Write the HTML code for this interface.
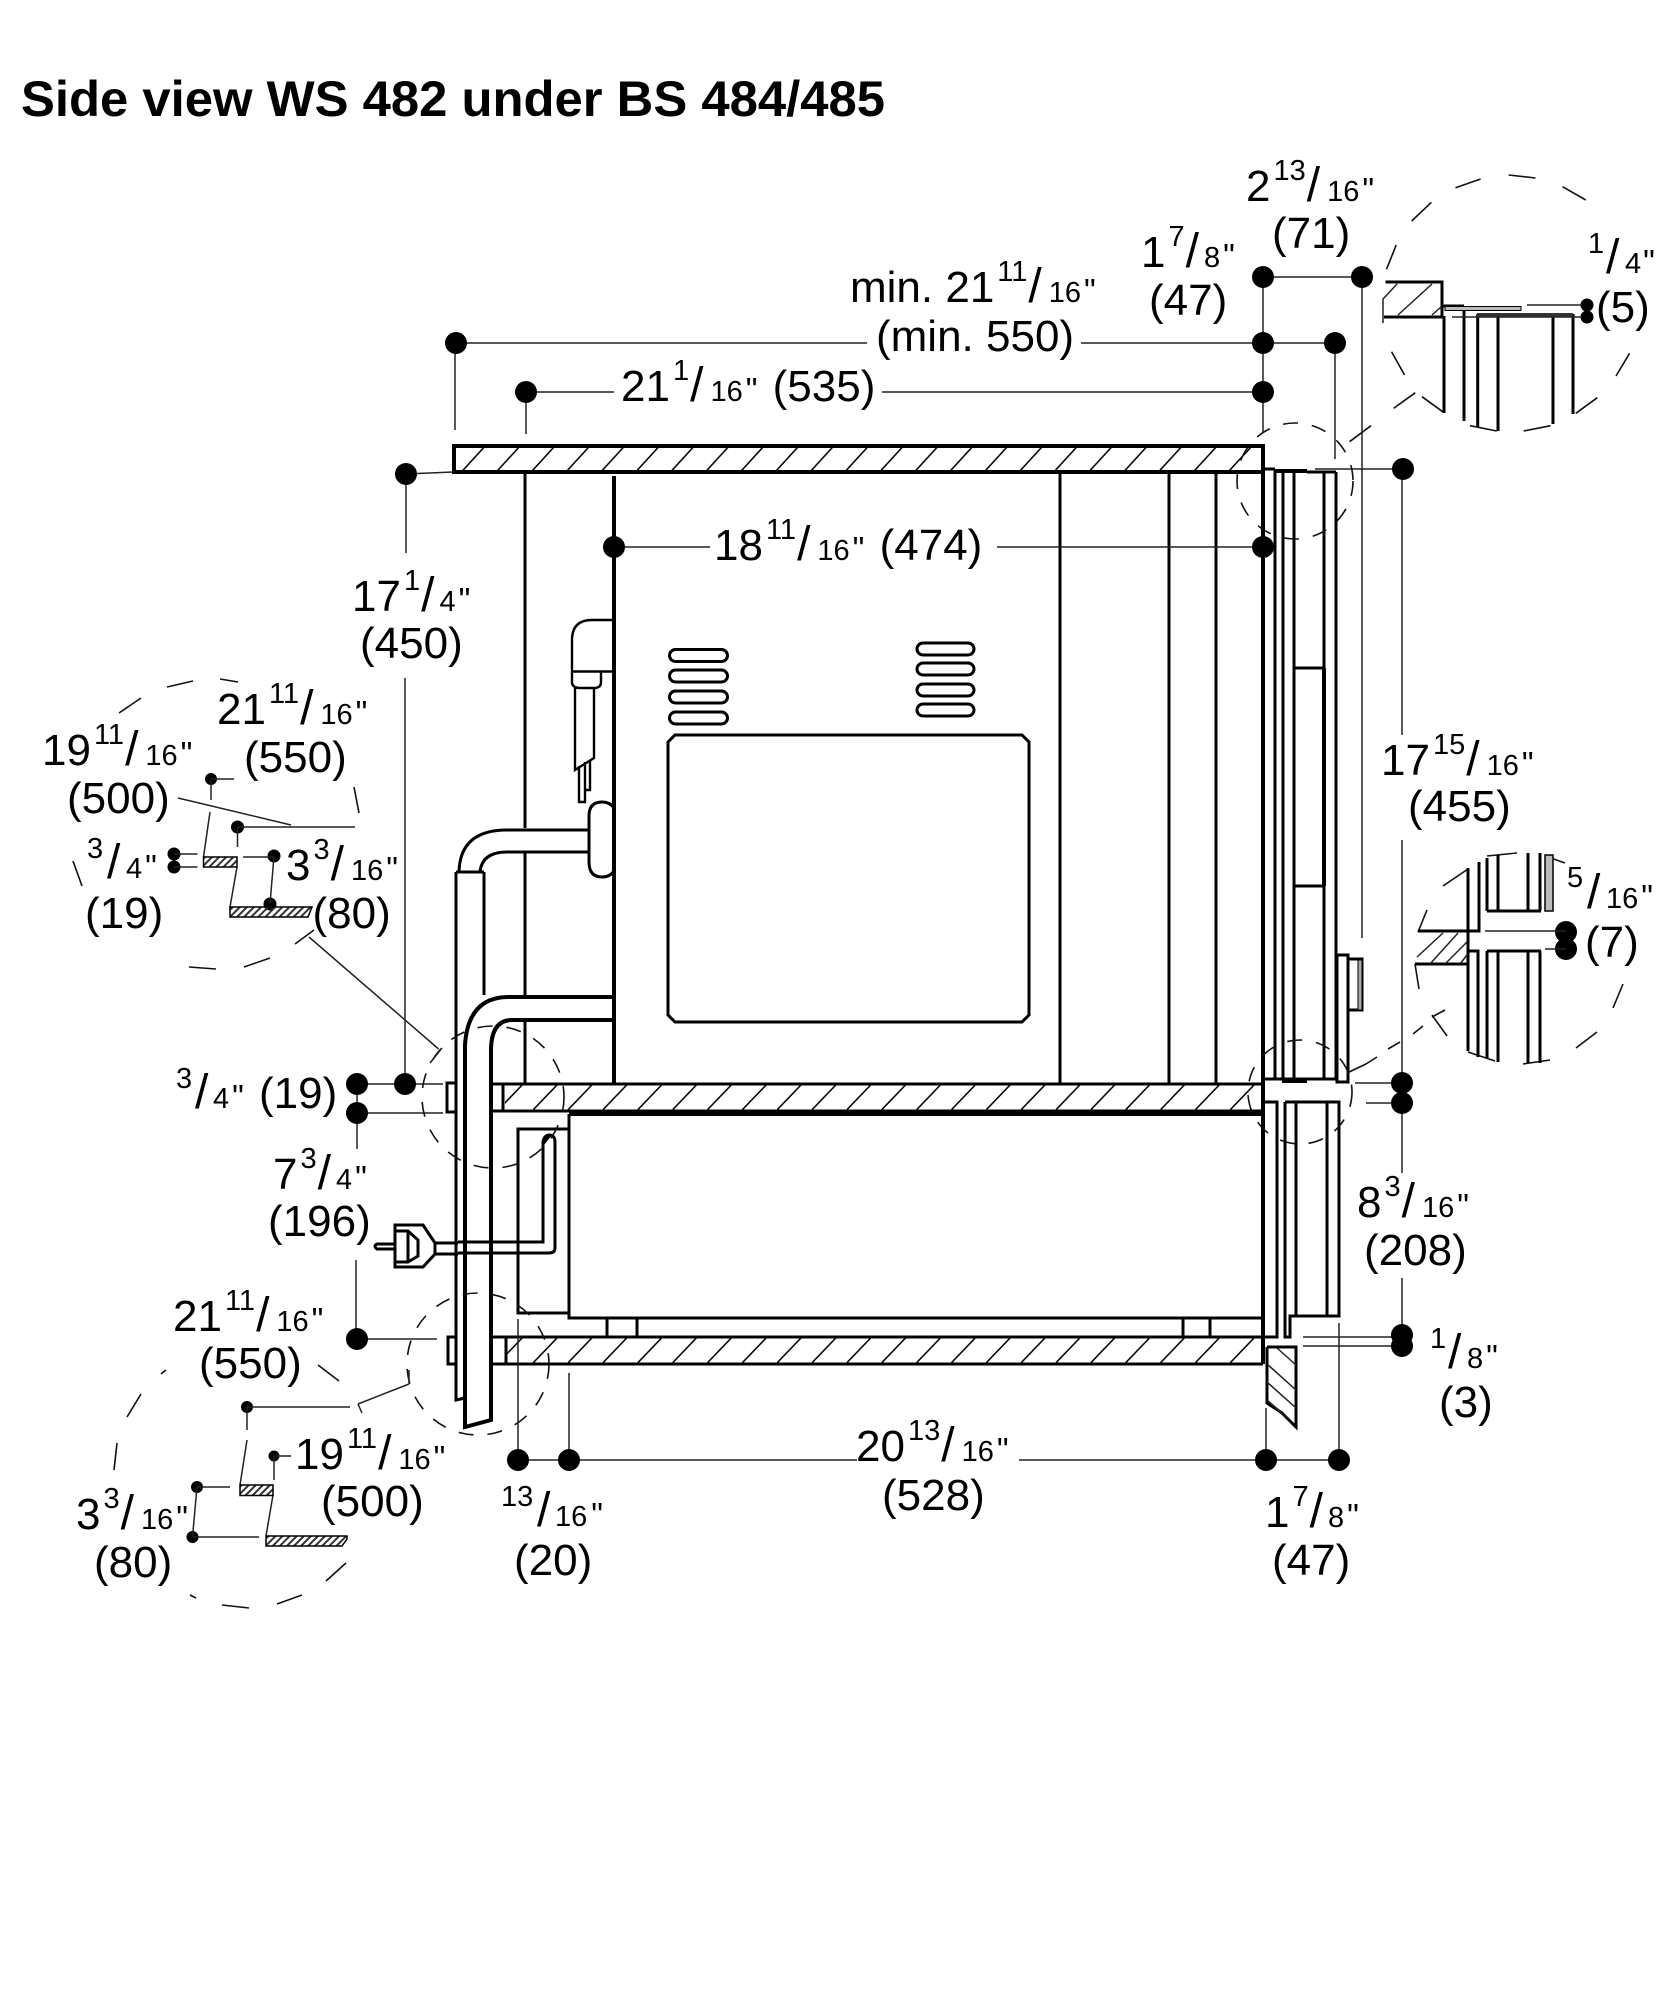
<!DOCTYPE html>
<html><head><meta charset="utf-8"><title>Side view WS 482 under BS 484/485</title>
<style>
html,body{margin:0;padding:0;background:#fff}
svg{display:block}
text{font-family:"Liberation Sans",sans-serif;font-size:44px;fill:#000}
text.h{font-size:50px;font-weight:bold}
.s{font-size:29px}
.p{font-size:48px}
.i{font-size:33px}
.m{fill:none;stroke:#000;stroke-width:3}
.k{fill:none;stroke:#000;stroke-width:4}
.v{fill:none;stroke:#000;stroke-width:2.4}
.t{fill:none;stroke:#222;stroke-width:1.5}
.d{fill:none;stroke:#111;stroke-width:1.6}
.c{fill:none;stroke:#111;stroke-width:1.6;stroke-dasharray:15 14}
</style></head><body>
<svg width="1663" height="2000" viewBox="0 0 1663 2000" xmlns="http://www.w3.org/2000/svg">
<defs>
<pattern id="h1" patternUnits="userSpaceOnUse" x="532" y="445" width="34.85" height="27"><path d="M0 26L22 2" stroke="#000" stroke-width="1.6" fill="none"/></pattern>
<pattern id="h2" patternUnits="userSpaceOnUse" x="533" y="1084" width="34.85" height="27"><path d="M0 26L24 1" stroke="#000" stroke-width="1.6" fill="none"/></pattern>
<pattern id="h3" patternUnits="userSpaceOnUse" x="533" y="1337" width="34.85" height="27"><path d="M0 26L24 1" stroke="#000" stroke-width="1.6" fill="none"/></pattern>
<pattern id="h4" patternUnits="userSpaceOnUse" width="5" height="5" patternTransform="rotate(45)"><rect width="2" height="5" fill="#333"/></pattern>
</defs>
<rect width="1663" height="2000" fill="#fff"/>
<text class="h" x="21" y="116" textLength="864" lengthAdjust="spacingAndGlyphs">Side view WS 482 under BS 484/485</text>

<!-- shelves -->
<rect x="454" y="446" width="809" height="26" fill="url(#h1)"/>
<path class="k" d="M462 446H1263V472H454V446H462"/>
<rect x="505" y="1085" width="758" height="26" fill="url(#h2)"/>
<path class="m" d="M492 1084H1263M492 1111H1263M503 1084V1111"/>
<rect x="507" y="1338" width="756" height="25" fill="url(#h3)"/>
<path class="m" d="M492 1337H1263M492 1364H1263M506 1337V1364"/>

<!-- cabinet verticals -->
<path class="m" d="M525 473V828M525 852V995M525 1021V1083M1060 473V1084M1169 473V1084M1216 473V1084"/>
<path class="k" d="M614 476V1084"/>
<path class="k" d="M1263 445V1364"/>
<path class="m" d="M1275 470V1079M1283 472V1079M1294 472V1079M1324 472V1079M1336 472V1079M1263 469H1275M1307 472H1336M1263 1079H1336M1294 668H1324M1294 886H1324"/>
<path class="k" d="M1275 471H1307M1282 1081H1307M1324 668V886"/>
<!-- knob -->
<path class="m" d="M1337 955H1348V1082H1337ZM1348 959H1362V1010H1348"/>
<rect x="1358" y="960" width="4" height="50" fill="#aaa" stroke="#000"/>
<!-- lower right column -->
<path class="m" d="M1263 1102H1277V1337H1263M1285 1102H1339V1316H1290V1337H1285V1102M1296 1102V1316M1327 1102V1316"/>
<!-- trim -->
<path class="m" d="M1267 1347H1296V1427L1287 1418L1282 1413L1267 1403V1347"/>
<path class="t" d="M1277 1348L1296 1365M1267 1364L1296 1390M1267 1382L1296 1408M1267 1400L1290 1420"/>
<!-- drawer -->
<path class="m" d="M569 1114V1318H1263M607 1318V1336M637 1318V1336M1183 1318V1336M1210 1318V1336"/>
<path class="k" d="M569 1114H1263"/>
<path class="m" d="M569 1129H518V1313H569"/>
<path class="m" d="M458 1242H543V1142Q544 1135 550 1135Q555 1136 555 1142V1248Q555 1253 549 1253H458M543 1144L550 1135"/>
<!-- plug -->
<path class="m" d="M435 1243H458M435 1254H458M395 1225H423L435 1243V1254L423 1267H395ZM395 1231H408L418 1240V1256L408 1262H395M408 1231V1262M395 1244H377Q373 1246 377 1249H395"/>
<!-- oven window and vents -->
<path class="m" d="M675 735H1022L1029 742V1015L1022 1022H675L668 1015V742Z"/>
<g class="m">
<rect x="669.5" y="649.5" width="58" height="12" rx="6"/><rect x="669.5" y="670" width="58" height="12" rx="6"/><rect x="669.5" y="691" width="58" height="12" rx="6"/><rect x="669.5" y="712" width="58" height="12" rx="6"/>
<rect x="917" y="643" width="57" height="12" rx="6"/><rect x="917" y="663" width="57" height="12" rx="6"/><rect x="917" y="684" width="57" height="12" rx="6"/><rect x="917" y="704" width="57" height="12" rx="6"/>
</g>
<!-- elbow -->
<path class="v" d="M614 620H592Q572 620 572 640V683Q573 688 580 688H594Q601 688 601 682V672M572 671.5H614M575 688V770L594 758V688M579 766V802H585V762M585 790H590V760"/>
<!-- capsule and tube -->
<path class="m" d="M614 808Q610 802 602 802Q589 802 589 816V862Q589 877 602 877Q610 877 614 871M589 830H507Q460 830 459 872M589 852H507Q482 852 480 872M456 872H484M456 872V1400L465 1398M484 872V995"/>
<path class="k" d="M614 997H507Q468 998 465 1045V1427L491 1420V1048Q492 1020 512 1020H614"/>
<path class="m" d="M456 1083H447V1112H456M456 1337H448V1364H456"/>

<!-- dim leaders -->
<path class="t" d="M455 343H867M1081 343H1335M455 343V430M526 392H614M882 392H1263M526 392V434M406 474L453 472M406 474V553M405 678V1083M614 547H710M997 547H1263M1263 277V432M1263 277H1362M1362 277V938M1335 343V459M1315 469H1403M1402 469V735M1402 840V1073M1402 1103V1173M1402 1278V1335M1355 1083H1402M1366 1103H1402M357 1084H443M357 1113H443M357 1084V1149M356 1260V1339M357 1339H437M518 1319V1460M569 1373V1460M518 1460H857M1019 1460H1339M1266 1408V1460M1339 1323V1460M1303 1337H1401M1303 1346H1401"/>

<!-- dots -->
<g fill="#000">
<circle cx="1263" cy="277" r="11"/><circle cx="1362" cy="277" r="11"/><circle cx="1263" cy="343" r="11"/><circle cx="1335" cy="343" r="11"/><circle cx="1263" cy="392" r="11"/><circle cx="1403" cy="469" r="11"/>
<circle cx="456" cy="343" r="11"/><circle cx="526" cy="392" r="11"/><circle cx="406" cy="474" r="11"/><circle cx="614" cy="547" r="11"/><circle cx="1263" cy="547" r="11"/>
<circle cx="357" cy="1084" r="11"/><circle cx="405" cy="1084" r="11"/><circle cx="357" cy="1113" r="11"/><circle cx="357" cy="1339" r="11"/>
<circle cx="518" cy="1460" r="11"/><circle cx="569" cy="1460" r="11"/><circle cx="1266" cy="1460" r="11"/><circle cx="1339" cy="1460" r="11"/>
<circle cx="1402" cy="1083" r="11"/><circle cx="1402" cy="1103" r="11"/><circle cx="1402" cy="1335" r="11"/><circle cx="1402" cy="1346" r="11"/>
<circle cx="1587" cy="305" r="6.5"/><circle cx="1587" cy="317" r="6.5"/><circle cx="1566" cy="932" r="11"/><circle cx="1566" cy="949" r="11"/>
<circle cx="211" cy="779" r="6"/><circle cx="237.5" cy="827" r="6.5"/><circle cx="274" cy="856" r="6.5"/><circle cx="270" cy="904" r="6.5"/><circle cx="174" cy="854" r="6.5"/><circle cx="174" cy="867" r="6.5"/>
<circle cx="247" cy="1407" r="6"/><circle cx="274" cy="1456" r="5.5"/><circle cx="197" cy="1487" r="6"/><circle cx="192.5" cy="1537" r="6"/>
</g>

<!-- small dashed circles -->
<circle class="c" cx="1295" cy="481" r="58"/>
<circle class="c" cx="1300" cy="1092" r="52"/>
<circle class="c" cx="493" cy="1097" r="71"/>
<circle class="c" cx="478" cy="1364" r="71"/>

<!-- detail top right -->
<path class="d" d="M1455.5 187.7L1480.6 179M1508.6 175L1535.5 178M1562.5 186.7L1585.8 200M1411.7 221L1431.4 202.3M1386.5 269.3L1396.2 245M1391.6 351.7L1404.5 375M1422 396.7L1444 412.7M1470 425.7L1496.8 431M1523.7 431L1550.6 425.7M1575.8 413.3L1597.3 397.7M1616 376L1629.6 353.3M1393.7 408.3L1415.3 392.7M1349.6 441.7L1371 425.7"/>
<path class="m" d="M1385.5 282H1442V317H1384M1442 306H1464M1444 316V413M1464 306V421M1477.7 314V427M1498 314V431M1553 314V424M1573 314V414"/>
<path class="t" d="M1397 284L1383 299V323M1398 315L1432 284M1432 315L1441 307M1527 305H1582M1452 317H1582"/>
<rect x="1445" y="306.5" width="76" height="4" fill="#bbb" stroke="#000" stroke-width="1"/>
<rect x="1477" y="313" width="96" height="3.5" fill="#333"/>

<!-- detail right -->
<path class="d" d="M1443 886L1468 869M1487 856L1517 853M1545 856L1565 863M1613 1008L1623 984M1576 1048L1597 1032M1523 1064L1550 1060M1468 1052L1495 1061M1432 1015L1447 1036M1415 964L1419 989M1418 932L1427 910M1347 1073L1366 1064M1366 1064L1377 1057M1388 1049L1400 1042M1413 1034L1423 1026M1432 1017L1445 1010"/>
<path class="m" d="M1468 868V931M1479 862V931H1418M1415 964H1468M1468 931V1051M1468 951H1478V1057M1487 951V1058M1498 951V1062M1487 951H1541M1528 951V1063M1540 951V1063M1487 858V911M1498 855V911M1487 911H1541M1528 853V911M1540 853V911"/>
<rect x="1545" y="855" width="8" height="56" fill="#bbb" stroke="#000" stroke-width="1.5"/>
<path class="t" d="M1485 931H1566M1545 949H1566M1417 957L1443 933M1430 964L1458 933M1445 964L1467 942M1460 964L1467 955"/>

<!-- detail left upper -->
<path class="d" d="M119 713L141 698M167 687L193 681M220 679L238 682M354 787L359 813M73 861L82 886M189 967L216 969M244 967L270 958M295 944L314 930"/>
<path class="t" d="M211 780V800M210 812L203.5 857M178 798L291 825M237.5 827H355M237.5 827V847M237 867L230 907M174 854H197.5M174 867H197.5M243 857H274M274 856L270 904M211 779H234M309 937L438.6 1049M430 1063L442 1048"/>
<rect x="203.5" y="857" width="33.5" height="10" fill="url(#h4)" stroke="#000" stroke-width="1.5"/>
<path d="M230 907H312L308 917H230Z" fill="url(#h4)" stroke="#000" stroke-width="1.5"/>

<!-- detail left lower -->
<path class="d" d="M114 1470L117 1443M127 1417L141 1394M161 1374L166 1370M318 1365L339 1381M190 1595L196 1598M222 1605L249 1608M277 1604L302 1595M326 1581L346 1563"/>
<path class="t" d="M247 1407H350M247 1407V1430M247 1440L240 1485M274 1456H291M274 1456V1480M273 1495L266 1536M197 1487H230M197 1487L192.5 1537M192.5 1537H259M409 1384L358 1404M358 1404L362 1413M409 1370L409 1384"/>
<rect x="240" y="1485" width="33" height="10.5" fill="url(#h4)" stroke="#000" stroke-width="1.5"/>
<path d="M266 1536H347V1539L342 1546H266Z" fill="url(#h4)" stroke="#000" stroke-width="1.5"/>

<!-- labels -->
<text x="1246" y="201">2<tspan class="s" dx="3" dy="-21">13</tspan><tspan class="p" dx="1" dy="21">/</tspan><tspan class="s" dx="7">16</tspan><tspan class="i" dx="3">"</tspan></text>
<text x="1272" y="248">(71)</text>
<text x="1141" y="267">1<tspan class="s" dx="3" dy="-21">7</tspan><tspan class="p" dx="1" dy="21">/</tspan><tspan class="s" dx="5">8</tspan><tspan class="i" dx="3">"</tspan></text>
<text x="1149" y="315">(47)</text>
<text x="1588" y="253" class="s">1</text><text x="1606" y="273" class="p">/</text><text x="1625" y="273" class="s">4<tspan class="i" dx="2">"</tspan></text>
<text x="1596" y="322">(5)</text>
<text x="850" y="302">min. 21<tspan class="s" dx="3" dy="-21">11</tspan><tspan class="p" dx="1" dy="21">/</tspan><tspan class="s" dx="7">16</tspan><tspan class="i" dx="3">"</tspan></text>
<text x="876" y="351">(min. 550)</text>
<text x="621" y="401">21<tspan class="s" dx="3" dy="-21">1</tspan><tspan class="p" dx="1" dy="21">/</tspan><tspan class="s" dx="7">16</tspan><tspan class="i" dx="3">"</tspan><tspan dx="3"> (535)</tspan></text>
<text x="714" y="560">18<tspan class="s" dx="3" dy="-21">11</tspan><tspan class="p" dx="1" dy="21">/</tspan><tspan class="s" dx="7">16</tspan><tspan class="i" dx="3">"</tspan><tspan dx="3"> (474)</tspan></text>
<text x="352" y="611">17<tspan class="s" dx="3" dy="-21">1</tspan><tspan class="p" dx="1" dy="21">/</tspan><tspan class="s" dx="5">4</tspan><tspan class="i" dx="3">"</tspan></text>
<text x="360" y="658">(450)</text>
<text x="1381" y="775">17<tspan class="s" dx="3" dy="-21">15</tspan><tspan class="p" dx="1" dy="21">/</tspan><tspan class="s" dx="7">16</tspan><tspan class="i" dx="3">"</tspan></text>
<text x="1408" y="821">(455)</text>
<text x="1567" y="887" class="s">5</text><text x="1587" y="908" class="p">/</text><text x="1606" y="908" class="s">16<tspan class="i" dx="3">"</tspan></text>
<text x="1585" y="957">(7)</text>
<text x="1357" y="1217">8<tspan class="s" dx="3" dy="-21">3</tspan><tspan class="p" dx="1" dy="21">/</tspan><tspan class="s" dx="7">16</tspan><tspan class="i" dx="3">"</tspan></text>
<text x="1364" y="1265">(208)</text>
<text x="1430" y="1348" class="s">1</text><text x="1448" y="1368" class="p">/</text><text x="1467" y="1368" class="s">8<tspan class="i" dx="3">"</tspan></text>
<text x="1439" y="1417">(3)</text>
<text x="1265" y="1527">1<tspan class="s" dx="3" dy="-21">7</tspan><tspan class="p" dx="1" dy="21">/</tspan><tspan class="s" dx="5">8</tspan><tspan class="i" dx="3">"</tspan></text>
<text x="1272" y="1575">(47)</text>
<text x="856" y="1461">20<tspan class="s" dx="3" dy="-21">13</tspan><tspan class="p" dx="1" dy="21">/</tspan><tspan class="s" dx="7">16</tspan><tspan class="i" dx="3">"</tspan></text>
<text x="882" y="1510">(528)</text>
<text x="501" y="1506" class="s">13</text><text x="537" y="1526" class="p">/</text><text x="555" y="1526" class="s">16<tspan class="i" dx="4">"</tspan></text>
<text x="514" y="1575">(20)</text>
<text x="176" y="1088" class="s">3</text><text x="195" y="1108" class="p">/</text><text x="213" y="1108" class="s">4<tspan class="i" dx="3">"</tspan></text>
<text x="259" y="1108">(19)</text>
<text x="273" y="1189">7<tspan class="s" dx="3" dy="-21">3</tspan><tspan class="p" dx="1" dy="21">/</tspan><tspan class="s" dx="5">4</tspan><tspan class="i" dx="3">"</tspan></text>
<text x="268" y="1236">(196)</text>
<text x="173" y="1331">21<tspan class="s" dx="3" dy="-21">11</tspan><tspan class="p" dx="1" dy="21">/</tspan><tspan class="s" dx="7">16</tspan><tspan class="i" dx="3">"</tspan></text>
<text x="199" y="1378">(550)</text>
<text x="295" y="1469">19<tspan class="s" dx="3" dy="-21">11</tspan><tspan class="p" dx="1" dy="21">/</tspan><tspan class="s" dx="7">16</tspan><tspan class="i" dx="3">"</tspan></text>
<text x="321" y="1516">(500)</text>
<text x="76" y="1529">3<tspan class="s" dx="3" dy="-21">3</tspan><tspan class="p" dx="1" dy="21">/</tspan><tspan class="s" dx="7">16</tspan><tspan class="i" dx="3">"</tspan></text>
<text x="94" y="1577">(80)</text>
<text x="217" y="724">21<tspan class="s" dx="3" dy="-21">11</tspan><tspan class="p" dx="1" dy="21">/</tspan><tspan class="s" dx="7">16</tspan><tspan class="i" dx="3">"</tspan></text>
<text x="244" y="772">(550)</text>
<text x="42" y="765">19<tspan class="s" dx="3" dy="-21">11</tspan><tspan class="p" dx="1" dy="21">/</tspan><tspan class="s" dx="7">16</tspan><tspan class="i" dx="3">"</tspan></text>
<text x="67" y="813">(500)</text>
<text x="286" y="880">3<tspan class="s" dx="3" dy="-21">3</tspan><tspan class="p" dx="1" dy="21">/</tspan><tspan class="s" dx="7">16</tspan><tspan class="i" dx="3">"</tspan></text>
<text x="312.5" y="928">(80)</text>
<text x="87" y="858" class="s">3</text><text x="107" y="878" class="p">/</text><text x="126" y="878" class="s">4<tspan class="i" dx="3">"</tspan></text>
<text x="85" y="928">(19)</text>
</svg>
</body></html>
